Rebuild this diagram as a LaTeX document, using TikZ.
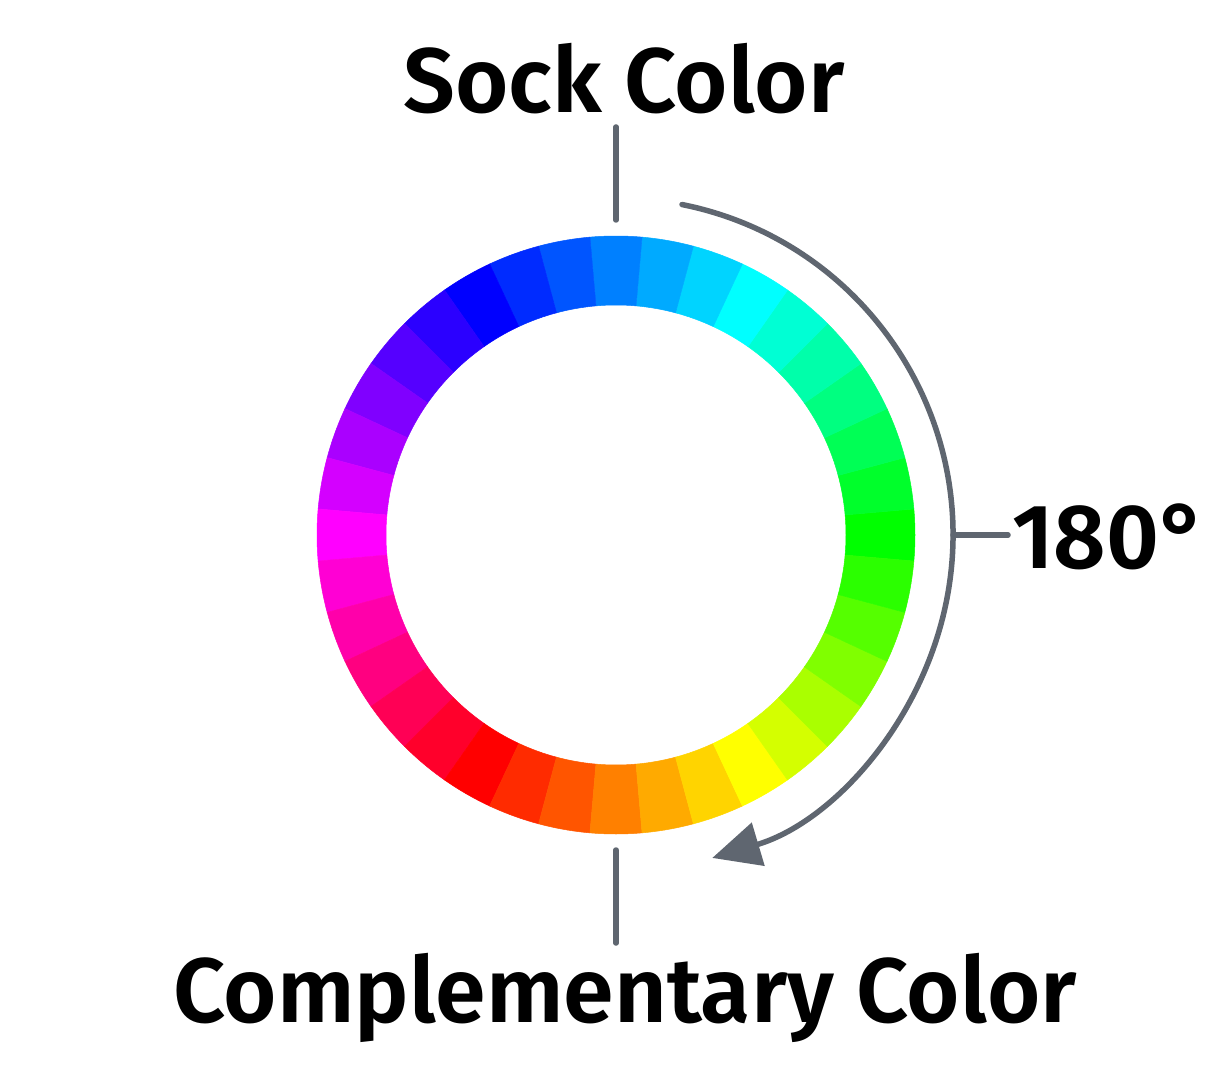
\documentclass[tikz,border=0pt]{standalone}
\usepackage{fontspec}
\setmainfont{Fira Sans}[BoldFont={Fira Sans SemiBold}]
\usetikzlibrary{arrows.meta}
\definecolor{tickgray}{HTML}{5F6670}

\begin{document}
\begin{tikzpicture}[x=1pt, y=1pt, line cap=round,
    tick/.style={line width=5.5pt, tickgray},
    label/.style={font=\fontsize{91.5}{100}\selectfont\bfseries, text=black, inner sep=0pt}]
    \useasboundingbox[fill=white] (-616,-541) rectangle (614,535);
    % 圆心 O
    \coordinate (O) at (0,0);

    % 色环: 36 段, 每段 10 度
    \foreach \a in {0,10,...,350} {
        \pgfmathtruncatemacro{\h}{mod(120+\a,360)}
        \definecolor{segh}{Hsb}{\h,1,1}
        \colorlet{seg}[rgb]{segh}
        \fill[seg, draw=seg, line width=0.5pt] (\a-5:230) arc (\a-5:\a+5:230)
            -- (\a+5:299) arc (\a+5:\a-5:299) -- cycle;
    }

    % 上下刻线
    \coordinate (T1) at (0,408);
    \coordinate (T2) at (0,315);
    \coordinate (D1) at (0,-315);
    \coordinate (D2) at (0,-408);
    \draw[tick] (T1) -- (T2);
    \draw[tick] (D1) -- (D2);

    % 旋转 180 度的弧线
    \draw[tick, -{Triangle[length=48pt, width=44pt]}] (78.7:337) arc (78.7:-73.4:337);
    \coordinate (R1) at (337,0);
    \coordinate (R2) at (392,0);
    \draw[tick] (R1) -- (R2);

    % 文字
    \node[label, anchor=base] (sock) at (8,422) {Sock Color};
    \node[label, anchor=base] (comp) at (9,-487) {Complementary Color};
    \node[label, anchor=base west] (deg) at (396,-33) {180°};
\end{tikzpicture}
\end{document}
